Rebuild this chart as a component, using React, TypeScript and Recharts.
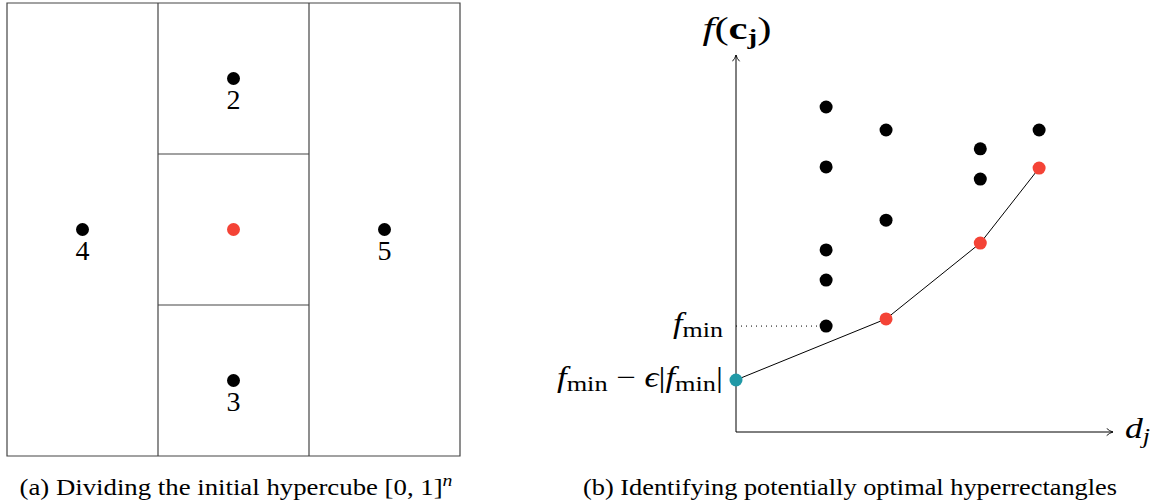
import { ScatterChart, Scatter, XAxis, YAxis, ReferenceLine, ReferenceArea } from 'recharts';

// panel (a): the unit hypercube split in thirds
const cuts = [1 / 3, 2 / 3];
const cubeCentre = [{ x: 0.5, y: 0.5 }];
const cubeSamples = [
	{ x: 0.5, y: 5 / 6, label: '2' },
	{ x: 0.5, y: 1 / 6, label: '3' },
	{ x: 1 / 6, y: 0.5, label: '4' },
	{ x: 5 / 6, y: 0.5, label: '5' },
];

// panel (b): rectangle size d_j vs centre value f(c_j)
const others = [
	{ d: 2.39, f: 8.62 },
	{ d: 2.39, f: 7.03 },
	{ d: 2.39, f: 4.83 },
	{ d: 2.39, f: 4.03 },
	{ d: 2.39, f: 2.81 },
	{ d: 3.98, f: 8.01 },
	{ d: 3.98, f: 5.62 },
	{ d: 6.48, f: 7.51 },
	{ d: 6.48, f: 6.71 },
	{ d: 8.04, f: 8.01 },
];
const hull = [
	{ d: 0, f: 1.38, kind: 'bound' },
	{ d: 3.98, f: 3.0, kind: 'optimal' },
	{ d: 6.48, f: 5.01, kind: 'optimal' },
	{ d: 8.04, f: 7.0, kind: 'optimal' },
];
const fMin = 2.81;
const fBound = 1.38;

const RED = '#f44336';
const TEAL = '#2199a6';
const LINE = '#444';
const SERIF = 'Liberation Serif, Times New Roman, serif';
const txt = { fontFamily: SERIF };

const CubeDot = (props: any) => {
	const { cx, cy, payload } = props;
	return (
		<g>
			<circle cx={cx} cy={cy} r={6.5} fill="#000" />
			<text x={cx} y={cy + 30} textAnchor="middle" fontSize={28} style={txt} fill="#000">
				{payload.label}
			</text>
		</g>
	);
};

const RedDot = (props: any) => <circle cx={props.cx} cy={props.cy} r={6.5} fill={RED} />;
const BlackDot = (props: any) => <circle cx={props.cx} cy={props.cy} r={6.5} fill="#000" />;
const HullDot = (props: any) => (
	<circle cx={props.cx} cy={props.cy} r={6.5} fill={props.payload.kind === 'bound' ? TEAL : RED} />
);

const FTick = (props: any) => {
	const { x, y, payload } = props;
	if (payload.value === fMin) {
		return (
			<text x={x - 3} y={y + 7} textAnchor="end" style={txt} fill="#000" textLength={50} lengthAdjust="spacingAndGlyphs">
				<tspan fontStyle="italic" fontSize={29}>f</tspan>
				<tspan fontSize={22} dy={4}>min</tspan>
			</text>
		);
	}
	return (
		<text x={x - 3} y={y + 7} textAnchor="end" style={txt} fill="#000" textLength={166} lengthAdjust="spacingAndGlyphs">
			<tspan fontStyle="italic" fontSize={29}>f</tspan>
			<tspan fontSize={22} dy={4}>min</tspan>
			<tspan fontSize={29} dy={-4}> − </tspan>
			<tspan fontStyle="italic" fontSize={29}>ϵ</tspan>
			<tspan fontSize={29}>|</tspan>
			<tspan fontStyle="italic" fontSize={29}>f</tspan>
			<tspan fontSize={22} dy={4}>min</tspan>
			<tspan fontSize={29} dy={-4}>|</tspan>
		</text>
	);
};

const YTitle = (props: any) => {
	const vb = props.viewBox;
	return (
		<text
			x={vb.x + vb.width + 1}
			y={vb.y - 16}
			textAnchor="middle"
			style={txt}
			fontSize={31}
			fill="#000"
			textLength={69}
			lengthAdjust="spacingAndGlyphs"
		>
			<tspan fontStyle="italic">f</tspan>
			<tspan>(</tspan>
			<tspan fontWeight="bold">c</tspan>
			<tspan fontWeight="bold" fontSize={21} dy={5}>j</tspan>
			<tspan dy={-5}>)</tspan>
		</text>
	);
};

const XTitle = (props: any) => {
	const vb = props.viewBox;
	return (
		<text
			x={vb.x + vb.width + 12}
			y={vb.y + 6}
			style={txt}
			fontSize={29}
			fill="#000"
			textLength={25}
			lengthAdjust="spacingAndGlyphs"
		>
			<tspan fontStyle="italic">d</tspan>
			<tspan fontStyle="italic" fontSize={21} dy={5}>j</tspan>
		</text>
	);
};

export default function App() {
	return (
		<div style={{ position: 'relative', width: 1160, height: 504, background: '#fff' }}>
			<style>{'body{margin:0}'}</style>
			<div style={{ position: 'absolute', left: 0, top: 0 }}>
				<ScatterChart width={470} height={504} margin={{ top: 3, right: 10, bottom: 48, left: 7 }}>
					<XAxis type="number" dataKey="x" domain={[0, 1]} hide />
					<YAxis type="number" dataKey="y" domain={[0, 1]} hide />
					<ReferenceArea x1={0} x2={1} y1={0} y2={1} fill="none" stroke={LINE} strokeWidth={1.2} />
					{cuts.map((c) => (
						<ReferenceLine key={'v' + c} x={c} stroke={LINE} strokeWidth={1.2} />
					))}
					{cuts.map((c) => (
						<ReferenceLine
							key={'h' + c}
							segment={[{ x: cuts[0], y: c }, { x: cuts[1], y: c }]}
							stroke={LINE}
							strokeWidth={1.2}
						/>
					))}
					<Scatter data={cubeSamples} shape={CubeDot} isAnimationActive={false} />
					<Scatter data={cubeCentre} shape={RedDot} isAnimationActive={false} />
					<text
						x={236}
						y={495}
						textAnchor="middle"
						style={txt}
						fontSize={23}
						fill="#000"
						textLength={433}
						lengthAdjust="spacingAndGlyphs"
					>
						<tspan>(a) Dividing the initial hypercube [0, 1]</tspan>
						<tspan fontStyle="italic" fontSize={17} dy={-9}>n</tspan>
					</text>
				</ScatterChart>
			</div>
			<div style={{ position: 'absolute', left: 550, top: 0 }}>
				<ScatterChart width={610} height={504} margin={{ top: 55, right: 47, bottom: 34, left: 0 }}>
					<defs>
						<marker
							id="arrowHead"
							viewBox="0 0 10 10"
							refX="9"
							refY="5"
							markerWidth="9"
							markerHeight="9"
							markerUnits="userSpaceOnUse"
							orient="auto-start-reverse"
						>
							<path d="M2,1 Q5,4 9,5 Q5,6 2,9" fill="none" stroke="#000" strokeWidth={1} />
						</marker>
					</defs>
					<XAxis
						type="number"
						dataKey="d"
						domain={[0, 10]}
						height={38}
						tick={false}
						tickLine={false}
						axisLine={{ stroke: '#000', strokeWidth: 1, markerEnd: 'url(#arrowHead)' }}
						label={{ content: XTitle }}
					/>
					<YAxis
						type="number"
						dataKey="f"
						domain={[0, 10]}
						width={186}
						ticks={[fBound, fMin]}
						interval={0}
						tick={FTick}
						tickLine={false}
						tickSize={0}
						tickMargin={10}
						axisLine={{ stroke: '#000', strokeWidth: 1, markerStart: 'url(#arrowHead)' }}
						label={{ content: YTitle }}
					/>
					<ReferenceLine
						segment={[{ x: 0, y: fMin }, { x: others[0].d, y: fMin }]}
						stroke="#000"
						strokeWidth={1}
						strokeDasharray="1 4"
					/>
					<Scatter data={others} shape={BlackDot} isAnimationActive={false} />
					<Scatter
						data={hull}
						shape={HullDot}
						line={{ stroke: '#000', strokeWidth: 1 }}
						isAnimationActive={false}
					/>
					<text
						x={300}
						y={495}
						textAnchor="middle"
						style={txt}
						fontSize={23}
						fill="#000"
						textLength={534}
						lengthAdjust="spacingAndGlyphs"
					>
						(b) Identifying potentially optimal hyperrectangles
					</text>
				</ScatterChart>
			</div>
		</div>
	);
}
